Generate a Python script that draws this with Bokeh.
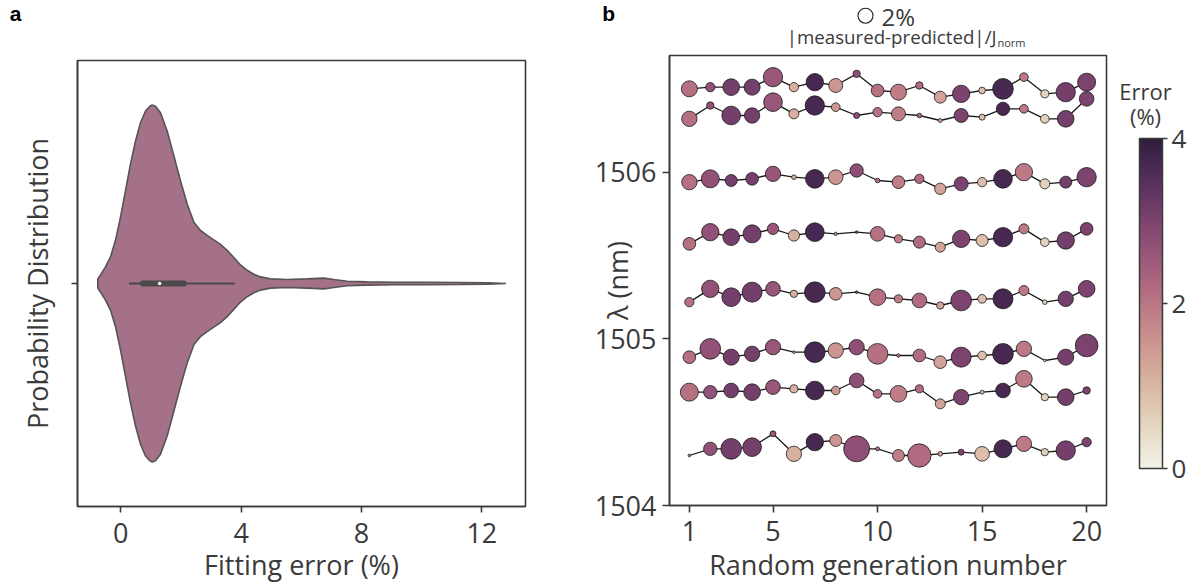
import numpy as np
from bokeh.plotting import figure
from bokeh.models import (Range1d, FixedTicker, ColorBar, LinearColorMapper, ColumnDataSource)
from bokeh.core.properties import value
from bokeh.layouts import row, column
from bokeh.embed import file_html
from bokeh.resources import INLINE

# ---------------- data: panel a (violin of fitting error, %) ----------------
violin_x = [-0.765, -0.676, -0.510, -0.343, -0.177, -0.011, 0.155, 0.321, 0.488, 0.654,
            0.820, 0.964, 1.042, 1.152, 1.319, 1.540, 1.762, 1.983, 2.205, 2.427,
            2.648, 2.870, 3.091, 3.313, 3.535, 3.756, 3.978, 4.199, 4.421, 4.643,
            4.975, 5.529, 6.194, 6.748, 7.080, 7.523, 8.188, 9.075, 10.18, 11.29,
            12.18, 12.80]
violin_density = [0.026, 0.048, 0.093, 0.149, 0.242, 0.372, 0.520, 0.669, 0.799, 0.901,
                  0.967, 0.994, 1.000, 0.994, 0.957, 0.855, 0.716, 0.576, 0.446, 0.344,
                  0.297, 0.270, 0.245, 0.219, 0.186, 0.145, 0.104, 0.074, 0.052, 0.037,
                  0.026, 0.022, 0.026, 0.030, 0.022, 0.013, 0.009, 0.007, 0.007, 0.006,
                  0.004, 0.0]
whisker_low, whisker_high = 0.27, 3.79
box_q1, box_q3 = 0.74, 2.09
median_err = 1.29

# ---------------- data: panel b ----------------
generation = list(range(1, 21))
gen_error = [2.1, 2.7, 3.1, 3.1, 2.6, 1.1, 3.7, 1.5, 2.75, 2.1,
             1.9, 2.2, 1.3, 3.0, 0.9, 3.7, 1.95, 0.6, 3.1, 3.0]

wl_row1 = [1506.50, 1506.51, 1506.51, 1506.51, 1506.57, 1506.51, 1506.54, 1506.52, 1506.59, 1506.49,
           1506.48, 1506.52, 1506.45, 1506.47, 1506.49, 1506.50, 1506.57, 1506.47, 1506.48, 1506.54]
dev_row1 = [2.28, 0.77, 2.47, 2.28, 3.32, 0.77, 2.67, 1.74, 0.48, 1.43,
            2.28, 0.48, 1.28, 2.67, 0.40, 3.80, 0.67, 0.57, 3.32, 2.88]
wl_row2 = [1506.32, 1506.40, 1506.34, 1506.34, 1506.42, 1506.35, 1506.40, 1506.39, 1506.34, 1506.36,
           1506.35, 1506.34, 1506.31, 1506.34, 1506.33, 1506.38, 1506.38, 1506.32, 1506.32, 1506.44]
dev_row2 = [2.09, 0.48, 3.10, 2.09, 3.10, 0.89, 3.32, 0.67, 0.32, 0.77,
            1.74, 0.19, 0.14, 1.74, 0.32, 1.58, 0.67, 0.67, 2.47, 1.91]
wl_row3 = [1505.94, 1505.96, 1505.95, 1505.96, 1505.99, 1505.97, 1505.96, 1505.97, 1506.01, 1505.95,
           1505.94, 1505.96, 1505.90, 1505.93, 1505.94, 1505.96, 1506.00, 1505.93, 1505.94, 1505.97]
dev_row3 = [2.09, 2.88, 1.28, 1.43, 2.09, 0.19, 3.10, 1.91, 1.58, 0.19,
            1.43, 0.77, 1.14, 1.74, 0.77, 3.10, 2.67, 0.89, 1.28, 3.32]
wl_row4 = [1505.57, 1505.64, 1505.61, 1505.63, 1505.66, 1505.62, 1505.64, 1505.63, 1505.64, 1505.63,
           1505.60, 1505.58, 1505.55, 1505.60, 1505.59, 1505.61, 1505.66, 1505.58, 1505.59, 1505.66]
dev_row4 = [1.43, 2.67, 2.47, 2.88, 1.14, 1.14, 3.10, 0.10, 0.06, 1.91,
            0.57, 1.28, 0.89, 2.67, 1.28, 3.32, 0.89, 0.67, 2.67, 1.43]
wl_row5 = [1505.22, 1505.30, 1505.25, 1505.28, 1505.30, 1505.27, 1505.28, 1505.27, 1505.28, 1505.25,
           1505.24, 1505.23, 1505.20, 1505.23, 1505.24, 1505.24, 1505.29, 1505.22, 1505.24, 1505.30]
dev_row5 = [0.77, 2.67, 3.10, 3.56, 1.91, 0.48, 3.80, 1.43, 0.06, 2.47,
            0.57, 1.91, 0.48, 3.80, 0.67, 3.56, 0.89, 0.19, 2.09, 2.47]
wl_row6 = [1504.89, 1504.94, 1504.89, 1504.91, 1504.95, 1504.92, 1504.92, 1504.93, 1504.95, 1504.91,
           1504.90, 1504.90, 1504.86, 1504.89, 1504.90, 1504.91, 1504.94, 1504.87, 1504.89, 1504.96]
dev_row6 = [1.43, 3.80, 2.28, 2.09, 2.09, 0.06, 3.80, 2.09, 2.09, 3.80,
            0.10, 1.43, 1.43, 3.56, 0.67, 3.80, 2.09, 0.06, 2.28, 4.57]
wl_row7 = [1504.68, 1504.68, 1504.69, 1504.68, 1504.71, 1504.70, 1504.69, 1504.69, 1504.75, 1504.67,
           1504.67, 1504.70, 1504.61, 1504.65, 1504.68, 1504.69, 1504.76, 1504.65, 1504.65, 1504.69]
dev_row7 = [2.88, 1.58, 1.91, 2.47, 1.91, 0.57, 3.10, 0.67, 1.91, 0.67,
            2.47, 0.57, 0.89, 2.09, 0.14, 1.91, 2.47, 0.48, 2.47, 0.48]
wl_row8 = [1504.30, 1504.34, 1504.34, 1504.35, 1504.43, 1504.31, 1504.38, 1504.39, 1504.34, 1504.34,
           1504.30, 1504.30, 1504.31, 1504.32, 1504.31, 1504.34, 1504.37, 1504.32, 1504.33, 1504.38]
dev_row8 = [0.06, 1.58, 3.80, 3.10, 0.32, 2.09, 2.67, 1.28, 6.01, 0.14,
            1.28, 4.84, 0.19, 0.32, 1.91, 2.88, 2.09, 0.48, 3.32, 0.77]

wl_rows = [wl_row1, wl_row2, wl_row3, wl_row4, wl_row5, wl_row6, wl_row7, wl_row8]
dev_rows = [dev_row1, dev_row2, dev_row3, dev_row4, dev_row5, dev_row6, dev_row7, dev_row8]

x_ticks_a = [0, 4, 8, 12]
x_ticks_b = [1, 5, 10, 15, 20]
y_ticks_b = [1504, 1505, 1506]
cbar_ticks = [0, 2, 4]
legend_dev = 2.0  # size key, %

# ---------------- styling ----------------
FONT = "Open Sans"
TXT = "#3a3a3a"
LINE = "#3a3a3a"
FS = "27px"


def cubehelix(n, start=0.0, rot=0.5, gamma=1.0, hue=0.8, light=0.95, dark=0.15):
    cols = []
    for x in np.linspace(light, dark, n):
        xg = x ** gamma
        a = hue * xg * (1 - xg) / 2
        phi = 2 * np.pi * (start / 3 + rot * x)
        r = xg + a * (-0.14861 * np.cos(phi) + 1.78277 * np.sin(phi))
        g = xg + a * (-0.29227 * np.cos(phi) - 0.90649 * np.sin(phi))
        b = xg + a * (1.97294 * np.cos(phi))
        cols.append("#%02x%02x%02x" % tuple(int(round(np.clip(c, 0, 1) * 255)) for c in (r, g, b)))
    return cols


palette = cubehelix(256)


def no_align(f):
    try:
        f.frame_align = False
    except Exception:
        pass


def style_axes(p, tick_out):
    p.outline_line_color = LINE
    p.outline_line_width = 1.6
    p.outline_line_alpha = 1
    p.xgrid.visible = False
    p.ygrid.visible = False
    for ax in (p.xaxis[0], p.yaxis[0]):
        ax.axis_line_color = LINE
        ax.axis_line_width = 1.6
        ax.major_tick_line_color = LINE
        ax.major_tick_line_width = 1.6
        ax.major_tick_out = tick_out
        ax.major_tick_in = 0
        ax.minor_tick_line_color = None
        ax.major_label_text_font = FONT
        ax.major_label_text_font_size = FS
        ax.major_label_text_color = TXT
        ax.axis_label_text_font = FONT
        ax.axis_label_text_font_size = FS
        ax.axis_label_text_color = TXT
        ax.axis_label_text_font_style = "normal"


def blank_fig(w, h):
    f = figure(width=w, height=h, x_range=Range1d(0, w), y_range=Range1d(0, h),
               x_axis_type=None, y_axis_type=None, output_backend="svg", toolbar_location=None,
               min_border=0, min_border_left=0, min_border_right=0, min_border_top=0,
               min_border_bottom=0)
    f.outline_line_color = None
    no_align(f)
    return f


# ---------------- panel a ----------------
hdrA = blank_fig(590, 58)
hdrA.text(x=[9.3], y=[45.3], text=["a"], text_font=value("Liberation Sans"),
          text_font_style="bold", text_font_size="21px", text_color="black",
          text_baseline="middle", text_align="left")

pA = figure(width=590, height=527, x_range=Range1d(-1.44, 13.45), y_range=Range1d(-0.5, 0.5),
            output_backend="svg", toolbar_location=None,
            min_border_left=77, min_border_right=65, min_border_top=2, min_border_bottom=77)
no_align(pA)
style_axes(pA, 6)
pA.xaxis.ticker = FixedTicker(ticks=x_ticks_a)
pA.yaxis.ticker = FixedTicker(ticks=[0])
pA.yaxis.major_label_overrides = {0: ""}
pA.xaxis.axis_label = "Fitting error (%)"
pA.yaxis.axis_label = "Probability Distribution"
pA.xaxis.major_label_standoff = 10
pA.xaxis.axis_label_standoff = 0
pA.yaxis.axis_label_standoff = 16

half = 0.4
vx = violin_x + violin_x[::-1]
vy = [half * d for d in violin_density] + [-half * d for d in violin_density[::-1]]
pA.patch(vx, vy, fill_color="#a47188", line_color="#555555", line_width=1.6)
pA.segment(x0=[whisker_low], y0=[0], x1=[whisker_high], y1=[0], line_color="#4a4a4a", line_width=2)
pA.segment(x0=[box_q1], y0=[0], x1=[box_q3], y1=[0], line_color="#4a4a4a", line_width=6,
           line_cap="round")
pA.scatter(x=[median_err], y=[0], size=3.5, fill_color="white", line_color=None)

# ---------------- panel b ----------------
REF_SIZE = 15.0  # px diameter of the 2 % key circle

hdrB = blank_fig(518, 53)
hdrB.text(x=[11.7], y=[40.3], text=["b"], text_font=value("Liberation Sans"),
          text_font_style="bold", text_font_size="21px", text_color="black",
          text_baseline="middle", text_align="left")
hdrB.scatter(x=[275], y=[37.8], size=REF_SIZE * np.sqrt(legend_dev / 2.0), fill_color="white",
             line_color="#222222", line_width=1.1)
hdrB.text(x=[291], y=[36.8], text=["%g%%" % legend_dev], text_font=value(FONT),
          text_font_size="24px", text_color=TXT, text_baseline="middle", text_align="left")
hdrB.text(x=[406], y=[17.5], text=["|measured-predicted|/J"], text_font=value(FONT),
          text_font_size="18.7px", text_color=TXT, text_baseline="middle", text_align="right")
hdrB.text(x=[407], y=[11.5], text=["norm"], text_font=value(FONT),
          text_font_size="11px", text_color=TXT, text_baseline="middle", text_align="left")

pB = figure(width=518, height=532, x_range=Range1d(0.05, 20.95), y_range=Range1d(1504, 1506.7),
            output_backend="svg", toolbar_location=None,
            min_border_left=79, min_border_right=2, min_border_top=2, min_border_bottom=78)
no_align(pB)
style_axes(pB, 7)
pB.xaxis.ticker = FixedTicker(ticks=x_ticks_b)
pB.yaxis.ticker = FixedTicker(ticks=y_ticks_b)
pB.xaxis.axis_label = "Random generation number"
pB.yaxis.axis_label = "λ (nm)"
pB.xaxis.major_label_standoff = 8
pB.xaxis.axis_label_standoff = 2
pB.yaxis.major_label_standoff = 6
pB.yaxis.axis_label_standoff = -44

mapper = LinearColorMapper(palette=palette, low=0, high=4)
for wl, dev in zip(wl_rows, dev_rows):
    pB.line(generation, wl, line_color="#1a1a1a", line_width=1.3)
    src = ColumnDataSource(dict(x=generation, y=wl, err=gen_error,
                                sz=[REF_SIZE * np.sqrt(v / 2.0) for v in dev]))
    pB.scatter("x", "y", size="sz", source=src, fill_color={"field": "err", "transform": mapper},
               line_color="#1a1a1a", line_width=0.8)

# ---------------- colour bar column ----------------
pC = blank_fig(88, 585)
pC.text(x=[37], y=[495], text=["Error"], text_font=value(FONT), text_font_size="22px",
        text_color=TXT, text_baseline="middle", text_align="center")
pC.text(x=[37], y=[470], text=["(%)"], text_font=value(FONT), text_font_size="22px",
        text_color=TXT, text_baseline="middle", text_align="center")
cbar = ColorBar(color_mapper=mapper, location=(31, 117), width=23, height=330,
                padding=0, margin=0, ticker=FixedTicker(ticks=cbar_ticks),
                major_tick_in=0, major_tick_out=5, major_tick_line_color=LINE,
                major_tick_line_width=1.5, minor_tick_line_color=None,
                bar_line_color=LINE, bar_line_width=1.5, border_line_color=None,
                background_fill_color=None, label_standoff=4,
                major_label_text_font=FONT, major_label_text_font_size="26px",
                major_label_text_color=TXT)
pC.add_layout(cbar)

layout = row(column(hdrA, pA), column(hdrB, pB), pC)
open("out.html", "w").write(file_html(layout, INLINE))
